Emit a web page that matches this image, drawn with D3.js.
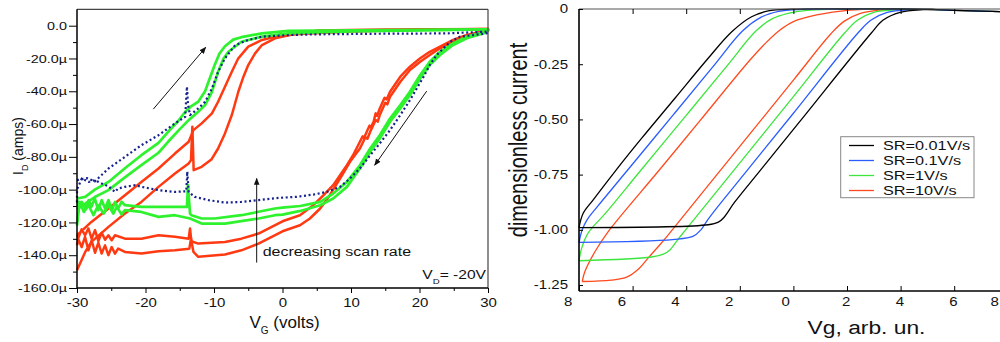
<!DOCTYPE html>
<html>
<head>
<meta charset="utf-8">
<script src="https://cdn.jsdelivr.net/npm/d3@7"></script>
<style>
  body { margin: 0; background: #fff; }
  svg { display: block; }
  text { font-family: "Liberation Sans", Arial, sans-serif; fill: #111; }
</style>
</head>
<body>
<svg id="chart" width="1000" height="342"></svg>
<script>
// ---- left panel: measured Id (µA) vs VG (V), forward and reverse sweeps ----
const greenFwd1 = [[-30,-105.4],[-28.8,-104.4],[-27.4,-100],[-25.4,-95.3],[-23,-87],[-20.6,-79],[-18.1,-71.5],[-16.7,-64.7],[-15.2,-58],[-14.2,-52.5],[-13.3,-49],[-12.3,-46.4],[-11.3,-40],[-10.8,-34.2],[-9.9,-24],[-9.2,-17],[-8.4,-12.5],[-7.2,-8.5],[-6,-7],[-3,-4.7],[0.85,-3.2],[10,-2.8],[20,-2.5],[30,-2.2]];
const greenRev1 = [[30,-2.4],[29.8,-3.6],[26.9,-6.7],[24.9,-10.8],[23,-15.9],[21.5,-22],[20.1,-30.1],[18.6,-40.3],[17.2,-48.4],[15.7,-56.6],[14.2,-66.8],[12.8,-74.9],[11.3,-85.1],[9.4,-95.3],[7.4,-102.4],[5.5,-107.5],[2.6,-110],[0,-111],[-1.1,-111.5],[-3.5,-113.5],[-6,-115.6],[-9.9,-117.6],[-11.8,-117.6],[-13.3,-115.6],[-13.5,-114.6],[-13.8,-97.3],[-13.95,-110.5],[-15.7,-110.5],[-18.1,-110.5],[-20.6,-110.5],[-23,-109.5],[-23.5,-107.4],[-24,-111.5],[-24.45,-107.5],[-24.9,-112.6],[-25.4,-106.4],[-25.9,-111.5],[-26.4,-106.4],[-26.9,-112.5],[-27.4,-105.4],[-27.9,-110.5],[-28.3,-106.4],[-28.8,-111.5],[-29.3,-107.5],[-29.8,-109.5],[-30,-106]];
const greenFwd2 = [[-30,-112],[-28.8,-108.5],[-27.4,-104.5],[-25.4,-100.3],[-23,-92.5],[-20.6,-85.1],[-18.1,-77.5],[-16.7,-70.8],[-15.2,-64],[-13.7,-57.6],[-12.3,-52.5],[-11.3,-48.4],[-10.3,-40.3],[-9.4,-28.1],[-8.6,-20],[-7.9,-15.9],[-6,-9.8],[-3,-6.7],[0.85,-4.7],[10,-3.5],[20,-2.8],[30,-2.3]];
const greenRev2 = [[30,-2.6],[29.8,-4.1],[26.9,-7.7],[24.9,-11.8],[23,-17.9],[21.5,-24],[20.1,-32.1],[18.6,-42.3],[17.2,-50.5],[15.7,-58.6],[14.2,-68.8],[12.8,-76.9],[11.3,-87.1],[9.4,-98.3],[7.4,-105.4],[5.5,-109.5],[2.6,-113],[0,-115.2],[-1.1,-115.6],[-3.5,-117.6],[-8.4,-120.7],[-11.8,-120.7],[-13.5,-117.6],[-15.7,-115.6],[-18.1,-116.6],[-20.6,-113.6],[-23,-112.5],[-23.5,-115.1],[-24.2,-110.5],[-24.7,-114.6],[-25.4,-109.5],[-26.1,-114.6],[-26.9,-109.5],[-27.6,-115.6],[-28.3,-109.5],[-29,-113.6],[-29.6,-107.5],[-30,-122]];
const redFwd1 = [[-30,-127.8],[-27.9,-119.7],[-25.4,-111.5],[-23,-103.4],[-20.6,-95.3],[-18.1,-87.1],[-15.7,-78],[-13.7,-70.8],[-13,-63.7],[-11.8,-59.6],[-10.3,-53.5],[-9.4,-46.4],[-8.4,-37.2],[-7.4,-28.1],[-6.45,-19.9],[-5,-12.8],[-3,-8.7],[-1.1,-6.7],[1.1,-5.3],[10,-3.5],[20,-2.5],[30,-2]];
const redRev1 = [[30,-2.6],[26.9,-5.7],[24.9,-8.7],[23,-12.8],[21.5,-15.9],[20.1,-19.9],[18.6,-25],[17.2,-31.1],[15.7,-40.3],[15.2,-45],[14.9,-44],[14.2,-50.5],[13.8,-55],[13.6,-53.5],[13.3,-58.6],[12.9,-62],[12.7,-61],[12.3,-64.7],[11.9,-68.5],[11.7,-67.5],[11.3,-70.8],[10.3,-79],[9.4,-85.1],[8.4,-91.2],[7.4,-97.3],[6,-103.4],[4.5,-109.5],[2.55,-115.6],[0,-119.3],[-3.5,-126.8],[-6,-129.9],[-8.4,-131.9],[-12.3,-132.9],[-13.3,-131.5],[-13.5,-123.7],[-13.7,-129.9],[-15.7,-128.8],[-18.1,-127.8],[-20.6,-129.9],[-23,-129.9],[-24.45,-127.8],[-24.94,-130.9],[-25.42,-127.8],[-25.9,-130.5],[-26.4,-126.3],[-26.88,-131.4],[-27.37,-124.7],[-27.86,-129.9],[-28.34,-123.7],[-28.83,-127.8],[-29.32,-124.2],[-29.8,-129.4],[-30,-127.8]];
const redFwd2 = [[-30,-149.2],[-28.8,-138],[-27.9,-131.9],[-25.4,-122.7],[-23,-114.6],[-20.6,-107.5],[-18.1,-98.3],[-15.7,-90.2],[-13.7,-84],[-13.36,-82],[-13.16,-61.7],[-12.97,-88.1],[-11.8,-86.1],[-10.34,-81.4],[-9.4,-74.9],[-8.4,-65.7],[-7.4,-54.5],[-6.45,-40.3],[-5.7,-31.1],[-5,-24],[-4,-16.9],[-3,-11.8],[-1.1,-7.7],[1.1,-5.7],[5,-3],[15,-2.3],[30,-2]];
const redRev2 = [[30,-3.2],[26.9,-6.7],[24.9,-9.75],[23,-13.8],[21.5,-17.9],[20.1,-22],[18.6,-27],[17.2,-34.2],[15.7,-43.3],[15.3,-48],[15,-47],[14.2,-54.5],[13.9,-58.5],[13.6,-57.5],[12.8,-64.7],[12.4,-69],[12.1,-68],[11.3,-74.9],[9.85,-83],[8.4,-93.2],[6.9,-103.4],[5.5,-111.5],[4,-117.6],[2.55,-121.7],[0,-125.4],[-3.5,-132.9],[-6,-137],[-8.4,-139.6],[-12.3,-141],[-13,-138],[-13.36,-129.9],[-13.6,-136],[-15.7,-137],[-18.1,-137.6],[-20.6,-139],[-23,-138],[-24,-136],[-24.45,-139],[-24.94,-135],[-25.42,-140],[-25.91,-134],[-26.4,-139],[-26.88,-132.4],[-27.37,-138.5],[-27.86,-130.9],[-28.34,-137],[-28.83,-128.8],[-29.32,-135],[-29.8,-130.4],[-30,-133.9]];
const blueFwd = [[-30,-94.2],[-28.5,-93],[-27.4,-95],[-25.4,-87.1],[-23,-80],[-20.6,-72.9],[-18.1,-66.8],[-15.7,-59.6],[-14.2,-55.6],[-14.05,-44],[-13.95,-37.2],[-13.8,-48],[-13.5,-54.5],[-12.3,-50.5],[-11.3,-46.4],[-10.3,-38.3],[-9.4,-28.1],[-8.4,-19.9],[-6.9,-11.8],[-5,-8.7],[-3,-6.7],[1.1,-5.7],[4.5,-5.3],[14.2,-4.9],[24,-4.7],[30,-3.6]];
const blueRev = [[30,-3.6],[29.8,-4.7],[27.9,-5.7],[25.9,-6.7],[24.5,-9.75],[23.5,-13.8],[22.5,-17.9],[21.5,-24],[20.6,-31.1],[19.6,-38.3],[18.6,-45.4],[17.2,-54.5],[15.7,-63.7],[14.2,-71.8],[12.8,-79],[11.3,-87.1],[9.85,-93.2],[8.4,-98.3],[6.45,-101.4],[4.5,-103],[2.07,-104.4],[-0.4,-105],[-3.5,-106.4],[-6,-107.5],[-8.4,-107.9],[-10.8,-106.4],[-12.8,-104.4],[-13.7,-101.4],[-13.9,-89],[-14.05,-101],[-15.7,-101.4],[-18.1,-100.3],[-20.6,-98.3],[-21.5,-97.3],[-23,-98.3],[-24,-99.3],[-24.45,-101.4],[-25.4,-98],[-26.4,-96.3],[-27.4,-94.2],[-28.3,-95.3],[-29.3,-93.2],[-30,-100],[-30,-108]];

const leftXTicks = [-30, -20, -10, 0, 10, 20, 30];
const leftYTicks = [0, -20, -40, -60, -80, -100, -120, -140, -160];

// ---- right panel: simulated dimensionless current vs Vg ----
const srLabels = ['SR=0.01V/s', 'SR=0.1V/s', 'SR=1V/s', 'SR=10V/s'];
const sr001Up = [[-8,-0.99],[-7.84,-0.924],[-7.47,-0.864],[-6.66,-0.736],[-5.66,-0.585],[-4.42,-0.404],[-3.18,-0.223],[-2.3,-0.103],[-1.56,-0.035],[-0.94,-0.009],[-0.06,-0.001],[2,0],[4,0],[5,-0.002],[6,-0.006],[7,-0.01],[8,-0.012]];
const sr001Down = [[8,-0.012],[7,-0.01],[6,-0.006],[5.2,-0.002],[4.85,-0.003],[3.98,-0.015],[3.35,-0.05],[2.9,-0.11],[0.25,-0.508],[-1.25,-0.733],[-2.2,-0.876],[-2.6,-0.945],[-2.8,-0.965],[-3.18,-0.977],[-8,-0.99]];
const sr01Up = [[-8,-1.057],[-7.88,-1.0],[-7.7,-0.955],[-7.3,-0.893],[-6.23,-0.736],[-4.5,-0.482],[-3,-0.261],[-1.9,-0.1],[-1.2,-0.037],[-0.55,-0.011],[0.3,-0.002],[2,0],[4,0],[5,-0.002],[6,-0.006],[7,-0.01],[8,-0.012]];
const sr01Down = [[8,-0.012],[7,-0.01],[6,-0.006],[5,-0.002],[4.4,-0.003],[3.5,-0.015],[2.9,-0.05],[2.4,-0.11],[0,-0.472],[-1.74,-0.733],[-2.9,-0.907],[-3.2,-0.955],[-3.45,-1.0],[-3.75,-1.03],[-4.5,-1.044],[-8,-1.057]];
const sr1Up = [[-8,-1.14],[-7.9,-1.083],[-7.65,-1.013],[-7,-0.923],[-5.73,-0.736],[-4,-0.482],[-2.5,-0.261],[-1.4,-0.1],[-0.8,-0.045],[-0.2,-0.02],[0.5,-0.006],[1.5,-0.001],[4,0],[5,-0.002],[6,-0.006],[7,-0.01],[8,-0.012]];
const sr1Down = [[8,-0.012],[7,-0.01],[6,-0.006],[5,-0.002],[4,-0.003],[3,-0.015],[2.4,-0.05],[1.9,-0.11],[0,-0.397],[-2.24,-0.733],[-4,-0.997],[-4.3,-1.042],[-4.6,-1.09],[-4.85,-1.11],[-5.3,-1.123],[-8,-1.14]];
const sr10Up = [[-7.88,-1.234],[-7.78,-1.189],[-7.4,-1.098],[-6.91,-1.008],[-5.05,-0.736],[-3.5,-0.508],[-1.62,-0.231],[-1,-0.15],[-0.5,-0.095],[0,-0.057],[0.87,-0.027],[2.1,-0.005],[3.5,0],[5,-0.002],[6,-0.006],[7,-0.01],[8,-0.012]];
const sr10Down = [[8,-0.012],[7,-0.01],[6,-0.006],[5,-0.002],[3.2,-0.005],[2.5,-0.02],[1.9,-0.055],[1.4,-0.112],[0,-0.322],[-2.74,-0.733],[-4.7,-1.027],[-5,-1.07],[-5.4,-1.125],[-5.8,-1.18],[-6.2,-1.213],[-6.8,-1.228],[-7.88,-1.234]];

const rightXTicks = [-8, -6, -4, -2, 0, 2, 4, 6, 8];
const rightYTicks = [0, -0.25, -0.5, -0.75, -1.0, -1.25];

// ------------------------------------------------------------------
const SX = 1.25; // glyphs in the source image are stretched sideways
const svg = d3.select('#chart');

svg.append('defs').append('marker')
  .attr('id', 'ah')
  .attr('viewBox', '0 0 10 10')
  .attr('refX', 9).attr('refY', 5)
  .attr('markerWidth', 7).attr('markerHeight', 7)
  .attr('orient', 'auto')
  .append('path').attr('d', 'M0,1L10,5L0,9Z').attr('fill', '#111');

function addText(g, x, y, size, anchor, sx) {
  return g.append('text')
    .attr('transform', `translate(${x},${y}) scale(${sx},1)`)
    .attr('text-anchor', anchor)
    .style('font-size', size + 'px');
}

function stretchTicks(sel, size) {
  sel.selectAll('text').each(function() {
    const t = d3.select(this);
    const x = +t.attr('x') || 0;
    t.attr('x', x / SX).attr('transform', `scale(${SX},1)`)
      .style('font-size', size + 'px')
      .attr('font-family', null);
  });
}

// ================= LEFT PANEL =================
const xL = d3.scaleLinear().domain([-30, 30]).range([77, 488]);
const yL = d3.scaleLinear().domain([-160, 10]).range([288, 9.3]);
const gL = svg.append('g');

const lineL = d3.line().x(d => xL(d[0])).y(d => yL(d[1])).curve(d3.curveLinear);

const curvesL = [
  { pts: redFwd2.concat(redRev2), color: '#ff3a12', dash: null, w: 2.5 },
  { pts: redFwd1.concat(redRev1), color: '#ff3a12', dash: null, w: 2.5 },
  { pts: greenFwd2.concat(greenRev2), color: '#2ef22e', dash: null, w: 2.7 },
  { pts: greenFwd1.concat(greenRev1), color: '#2ef22e', dash: null, w: 2.7 },
  { pts: blueFwd.concat(blueRev), color: '#16228e', dash: '2,2.6', w: 2.2 }
];
gL.selectAll('path.curve')
  .data(curvesL)
  .enter().append('path')
  .attr('class', 'curve')
  .attr('d', d => lineL(d.pts))
  .attr('fill', 'none')
  .attr('stroke', d => d.color)
  .attr('stroke-width', d => d.w)
  .attr('stroke-linejoin', 'round')
  .attr('stroke-dasharray', d => d.dash);

// frame
gL.append('line').attr('x1', xL(-30)).attr('x2', xL(30)).attr('y1', yL(10)).attr('y2', yL(10)).attr('stroke', '#444').attr('stroke-width', 1.2);
gL.append('line').attr('x1', xL(30)).attr('x2', xL(30)).attr('y1', yL(10)).attr('y2', yL(-160)).attr('stroke', '#444').attr('stroke-width', 1.2);

// axes: minor then major
gL.append('g').attr('transform', `translate(0,${yL(-160)})`)
  .call(d3.axisBottom(xL).tickValues(d3.range(-25, 30, 10)).tickSize(3).tickFormat(''))
  .call(g => g.select('.domain').remove());
const axXL = gL.append('g').attr('transform', `translate(0,${yL(-160)})`)
  .call(d3.axisBottom(xL).tickValues(leftXTicks).tickSizeInner(5).tickSizeOuter(0).tickPadding(5.5)
    .tickFormat(d => d));
axXL.select('.domain').attr('stroke-width', 1.5).attr('d', `M${xL(-30)},0H${xL(30)}`);
stretchTicks(axXL, 12);

gL.append('g').attr('transform', `translate(${xL(-30)},0)`)
  .call(d3.axisLeft(yL).tickValues(d3.range(-150, 10, 20)).tickSize(4).tickFormat(''))
  .call(g => g.select('.domain').remove());
const axYL = gL.append('g').attr('transform', `translate(${xL(-30)},0)`)
  .call(d3.axisLeft(yL).tickValues(leftYTicks).tickSizeInner(8).tickSizeOuter(0).tickPadding(2)
    .tickFormat(d => d === 0 ? '0.0' : d.toFixed(1) + 'µ'));
axYL.select('.domain').attr('stroke-width', 1.5).attr('d', `M0,${yL(10)}V${yL(-160)}`);
stretchTicks(axYL, 11.5);

// titles
const tyL = gL.append('text')
  .attr('transform', 'translate(23,146) rotate(-90)')
  .attr('text-anchor', 'middle')
  .style('font-size', '14px');
tyL.append('tspan').text('I');
tyL.append('tspan').attr('baseline-shift', 'sub').style('font-size', '9px').text('D');
tyL.append('tspan').text(' (amps)');

const txL = addText(gL, 284.5, 327.7, 17, 'middle', 1.0);
txL.append('tspan').text('V');
txL.append('tspan').attr('baseline-shift', 'sub').style('font-size', '10px').text('G');
txL.append('tspan').text(' (volts)');

// annotations
const arrowsL = [
  [[-18.86, -50.9], [-11.21, -13.2]],
  [[21.05, -39.9], [13.46, -85.1]],
  [[-3.77, -144.5], [-3.77, -93.2]]
];
gL.selectAll('line.arrow')
  .data(arrowsL)
  .enter().append('line')
  .attr('class', 'arrow')
  .attr('x1', d => xL(d[0][0])).attr('y1', d => yL(d[0][1]))
  .attr('x2', d => xL(d[1][0])).attr('y2', d => yL(d[1][1]))
  .attr('stroke', '#111').attr('stroke-width', 1)
  .attr('marker-end', 'url(#ah)');

addText(gL, 262.7, 256, 12.5, 'start', 1.28).text('decreasing scan rate');
const vd = addText(gL, 486, 279.3, 13, 'end', 1.2);
vd.append('tspan').text('V');
vd.append('tspan').attr('baseline-shift', 'sub').style('font-size', '8px').text('D');
vd.append('tspan').text('= -20V');

// ================= RIGHT PANEL =================
const xR = d3.scaleLinear().domain([-8, 8]).range([579, 1007.8]);
const yR = d3.scaleLinear().domain([-1.277, 0]).range([291, 9]);
const gR = svg.append('g');

const lineR = d3.line().x(d => xR(d[0])).y(d => yR(d[1])).curve(d3.curveCatmullRom.alpha(0.5));
const srColors = ['#000000', '#2a5cff', '#3ce63c', '#ff4a1e'];
const curvesR = [
  sr10Up.concat(sr10Down.slice(1)),
  sr1Up.concat(sr1Down.slice(1)),
  sr01Up.concat(sr01Down.slice(1)),
  sr001Up.concat(sr001Down.slice(1))
];
const colorOrder = [3, 2, 1, 0];
gR.selectAll('path.sim')
  .data(curvesR)
  .enter().append('path')
  .attr('class', 'sim')
  .attr('d', d => lineR(d))
  .attr('fill', 'none')
  .attr('stroke', (d, i) => srColors[colorOrder[i]])
  .attr('stroke-width', 1.3);

// frame lines
gR.append('line').attr('x1', xR(-8)).attr('x2', 1000).attr('y1', yR(0)).attr('y2', yR(0)).attr('stroke', '#555').attr('stroke-width', 1.2);

const axXR = gR.append('g').attr('transform', `translate(0,${yR(-1.277)})`)
  .call(d3.axisBottom(xR).tickValues(rightXTicks).tickSizeInner(-5).tickSizeOuter(0).tickPadding(6)
    .tickFormat(d => Math.abs(d)));
axXR.select('.domain').attr('stroke-width', 1.6).attr('d', `M${xR(-8)},0H1000`);
// left-hand labels sit a little left of their ticks; the last one is pulled in to stay on the page
axXR.selectAll('.tick text').attr('dx', d => d < 0 ? -9 : (d === 0 ? -6.5 : (d === 8 ? -11 : -1)));
stretchTicks(axXR, 12);

gR.append('g').attr('transform', `translate(0,${yR(0)})`)
  .call(d3.axisTop(xR).tickValues(rightXTicks.slice(1)).tickSizeInner(-5).tickSizeOuter(0).tickFormat(''))
  .call(g => g.select('.domain').remove());

const axYR = gR.append('g').attr('transform', `translate(${xR(-8)},0)`)
  .call(d3.axisLeft(yR).tickValues(rightYTicks).tickSizeInner(-4).tickSizeOuter(0).tickPadding(11)
    .tickFormat(d => d === 0 ? '0' : d.toFixed(2)));
axYR.select('.domain').attr('stroke-width', 1.6).attr('d', `M0,${yR(0)}V${yR(-1.277)}`);
stretchTicks(axYR, 12);

gR.append('text')
  .attr('transform', `translate(527,140) scale(${SX},1) rotate(-90)`)
  .attr('text-anchor', 'middle')
  .style('font-size', '20px')
  .text('dimensionless current');

addText(gR, 866.5, 334, 19, 'middle', 1.2).text('Vg, arb. un.');

// legend
const legend = gR.append('g');
legend.append('rect')
  .attr('x', 840.7).attr('y', 136.7).attr('width', 133.3).attr('height', 61)
  .attr('fill', '#fff').attr('stroke', '#888').attr('stroke-width', 1);
const legY = d3.scalePoint().domain(srLabels).range([145.5, 190.5]);
const items = legend.selectAll('g.item').data(srLabels).enter().append('g').attr('class', 'item');
items.append('line')
  .attr('x1', 849).attr('x2', 874)
  .attr('y1', d => legY(d)).attr('y2', d => legY(d))
  .attr('stroke', (d, i) => srColors[i]).attr('stroke-width', 1.3);
items.append('text')
  .attr('transform', d => `translate(883,${legY(d) + 4.6}) scale(${SX},1)`)
  .style('font-size', '13px')
  .text(d => d);
</script>
</body>
</html>
